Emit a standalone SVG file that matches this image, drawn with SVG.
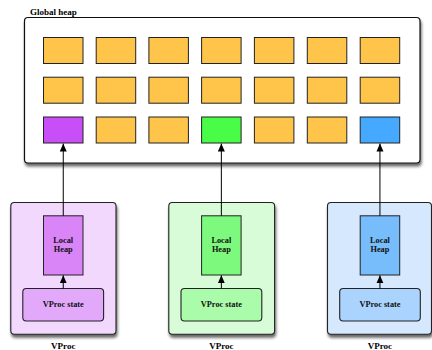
<svg xmlns="http://www.w3.org/2000/svg" width="432" height="350" viewBox="0 0 432 350">
  <defs>
    <filter id="shadow" x="-10%" y="-10%" width="125%" height="130%">
      <feGaussianBlur in="SourceAlpha" stdDeviation="1.6"/>
      <feOffset dx="1" dy="2.5" result="b"/>
      <feComponentTransfer><feFuncA type="linear" slope="0.6"/></feComponentTransfer>
      <feMerge><feMergeNode/><feMergeNode in="SourceGraphic"/></feMerge>
    </filter>
    <marker id="arrow" viewBox="0 0 8 10" refX="8" refY="5" markerWidth="8" markerHeight="10" markerUnits="userSpaceOnUse" orient="auto">
      <path d="M0,1.5 L8,5 L0,8.5 Z" fill="#000"/>
    </marker>
  </defs>
  <style>
    .title { font-family: "Liberation Serif", "Times New Roman", serif; font-weight: bold; font-size: 9px; fill: #000; }
    .lbl { font-family: "Liberation Serif", "Times New Roman", serif; font-weight: bold; font-size: 8.3px; fill: #111; text-anchor: middle; }
    .heap { fill: #fff; stroke: #111; stroke-width: 1.2; }
    .cell { stroke: #222; stroke-width: 1; }
    .obj { fill: #FFC54A; }
    .frame { stroke: #222; stroke-width: 1.1; }
    .conn { stroke: #000; stroke-width: 1; fill: none; marker-end: url(#arrow); }
  </style>

  <!-- global heap -->
  <g id="global-heap">
    <text class="title" x="30" y="14.5">Global heap</text>
    <rect class="heap" x="24.5" y="17.5" width="395.5" height="145.5" rx="3.5" filter="url(#shadow)"/>
    <g class="cell">
      <rect class="obj" x="43.5" y="37.5" width="39.5" height="26"/>
      <rect class="obj" x="96.2" y="37.5" width="39.5" height="26"/>
      <rect class="obj" x="148.9" y="37.5" width="39.5" height="26"/>
      <rect class="obj" x="201.6" y="37.5" width="39.5" height="26"/>
      <rect class="obj" x="254.4" y="37.5" width="39.5" height="26"/>
      <rect class="obj" x="307.3" y="37.5" width="39.5" height="26"/>
      <rect class="obj" x="360.2" y="37.5" width="39.5" height="26"/>

      <rect class="obj" x="43.5" y="77.2" width="39.5" height="26"/>
      <rect class="obj" x="96.2" y="77.2" width="39.5" height="26"/>
      <rect class="obj" x="148.9" y="77.2" width="39.5" height="26"/>
      <rect class="obj" x="201.6" y="77.2" width="39.5" height="26"/>
      <rect class="obj" x="254.4" y="77.2" width="39.5" height="26"/>
      <rect class="obj" x="307.3" y="77.2" width="39.5" height="26"/>
      <rect class="obj" x="360.2" y="77.2" width="39.5" height="26"/>

      <rect fill="#C84FF8" x="43.5" y="117" width="39.5" height="26"/>
      <rect class="obj" x="96.2" y="117" width="39.5" height="26"/>
      <rect class="obj" x="148.9" y="117" width="39.5" height="26"/>
      <rect fill="#48FC48" x="201.6" y="117" width="39.5" height="26"/>
      <rect class="obj" x="254.4" y="117" width="39.5" height="26"/>
      <rect class="obj" x="307.3" y="117" width="39.5" height="26"/>
      <rect fill="#45A9FF" x="360.2" y="117" width="39.5" height="26"/>
    </g>
  </g>

  <!-- VProc 1 (purple) -->
  <g id="vproc-1">
    <rect class="frame" x="10.8" y="202.5" width="105.2" height="131.8" rx="3.5" fill="#F1D8FC" filter="url(#shadow)"/>
    <rect class="cell" x="43.5" y="215.8" width="39.5" height="59.2" fill="#D984F7"/>
    <text class="lbl" x="63.25" y="242.5">Local</text>
    <text class="lbl" x="63.25" y="252">Heap</text>
    <rect class="frame" x="22.8" y="288.5" width="80.8" height="32.5" rx="3.5" fill="#E2A9FB"/>
    <text class="lbl" x="63.25" y="307.3">VProc state</text>
    <text class="title" x="63.25" y="349.2" text-anchor="middle">VProc</text>
  </g>

  <!-- VProc 2 (green) -->
  <g id="vproc-2">
    <rect class="frame" x="168.8" y="202.5" width="105.8" height="131.8" rx="3.5" fill="#D8FCD8" filter="url(#shadow)"/>
    <rect class="cell" x="201.6" y="215.8" width="39.5" height="59.2" fill="#7DF97D"/>
    <text class="lbl" x="221.35" y="242.5">Local</text>
    <text class="lbl" x="221.35" y="252">Heap</text>
    <rect class="frame" x="181" y="288.5" width="80.8" height="32.5" rx="3.5" fill="#AAFBAA"/>
    <text class="lbl" x="221.35" y="307.3">VProc state</text>
    <text class="title" x="221.35" y="349.2" text-anchor="middle">VProc</text>
  </g>

  <!-- VProc 3 (blue) -->
  <g id="vproc-3">
    <rect class="frame" x="327.5" y="202.5" width="104" height="131.8" rx="3.5" fill="#D5E8FD" filter="url(#shadow)"/>
    <rect class="cell" x="360.2" y="215.8" width="39.5" height="59.2" fill="#77BDFB"/>
    <text class="lbl" x="379.95" y="242.5">Local</text>
    <text class="lbl" x="379.95" y="252">Heap</text>
    <rect class="frame" x="339.7" y="288.5" width="80.6" height="32.5" rx="3.5" fill="#AAD3FD"/>
    <text class="lbl" x="379.95" y="307.3">VProc state</text>
    <text class="title" x="379.95" y="349.2" text-anchor="middle">VProc</text>
  </g>

  <!-- connectors -->
  <g id="connectors">
    <line class="conn" x1="63.25" y1="215.8" x2="63.25" y2="143.5"/>
    <line class="conn" x1="221.35" y1="215.8" x2="221.35" y2="143.5"/>
    <line class="conn" x1="379.95" y1="215.8" x2="379.95" y2="143.5"/>
    <line class="conn" x1="63.25" y1="288.5" x2="63.25" y2="275.3"/>
    <line class="conn" x1="221.35" y1="288.5" x2="221.35" y2="275.3"/>
    <line class="conn" x1="379.95" y1="288.5" x2="379.95" y2="275.3"/>
  </g>
</svg>
